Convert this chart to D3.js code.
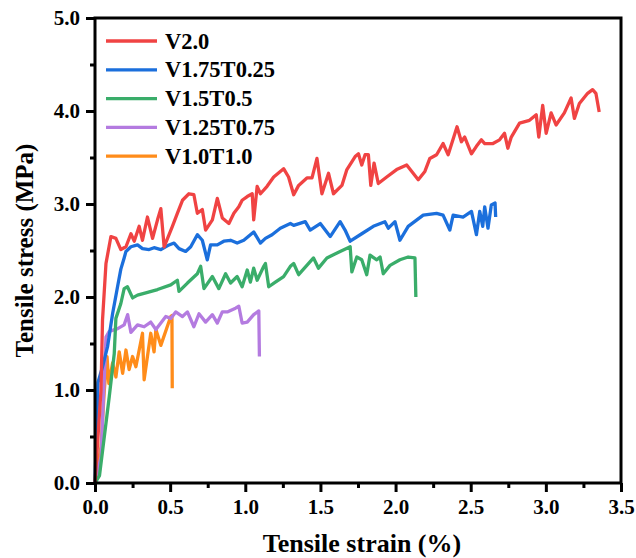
<!DOCTYPE html>
<html>
<head>
<meta charset="utf-8">
<script src="https://cdn.jsdelivr.net/npm/d3@7/dist/d3.min.js"></script>
<style>
  html, body { margin: 0; padding: 0; background: #fff; }
  svg { display: block; }
  text { font-family: "Liberation Serif", "Times New Roman", serif; font-weight: bold; fill: #000; }
</style>
</head>
<body>
<svg id="chart" width="636" height="558"></svg>
<script>
// Tensile stress–strain curves for five specimen compositions
const seriesNames = ["V2.0", "V1.75T0.25", "V1.5T0.5", "V1.25T0.75", "V1.0T1.0"];
const seriesColors = ["#f04343", "#1b6fdc", "#3aad6a", "#b47be0", "#ff8c1a"];

const strainV20 = [0,0.040,0.050,0.073,0.106,0.139,0.172,0.206,0.239,0.261,0.294,0.316,0.349,0.383,0.416,0.438,0.460,0.515,0.548,0.582,0.625,0.658,0.681,0.714,0.736,0.781,0.814,0.847,0.891,0.924,0.957,0.979,1.013,1.046,1.056,1.079,1.101,1.145,1.189,1.255,1.288,1.322,1.355,1.410,1.444,1.477,1.510,1.554,1.587,1.643,1.676,1.731,1.753,1.775,1.797,1.819,1.835,1.857,1.885,1.941,2.007,2.074,2.151,2.195,2.228,2.273,2.316,2.350,2.409,2.438,2.460,2.505,2.538,2.571,2.593,2.648,2.692,2.725,2.747,2.770,2.825,2.891,2.936,2.953,2.979,3.002,3.035,3.068,3.123,3.168,3.190,3.223,3.278,3.311,3.333,3.355];
const stressV20 = [0,1.00,1.75,2.36,2.65,2.63,2.51,2.54,2.68,2.60,2.76,2.61,2.86,2.63,2.83,2.95,2.54,2.76,2.90,3.04,3.11,3.10,2.90,2.94,2.72,2.83,3.06,2.85,2.79,2.90,2.97,3.04,3.08,3.11,2.83,3.19,3.11,3.19,3.29,3.38,3.29,3.10,3.20,3.28,3.28,3.49,3.11,3.33,3.11,3.20,3.37,3.51,3.54,3.42,3.53,3.53,3.20,3.44,3.22,3.29,3.37,3.42,3.26,3.35,3.49,3.53,3.65,3.53,3.83,3.67,3.72,3.54,3.62,3.69,3.65,3.65,3.69,3.76,3.60,3.72,3.87,3.90,3.96,3.72,4.06,3.76,3.98,3.85,3.98,4.14,3.92,4.08,4.19,4.23,4.19,3.99];

const strainV175 = [0,0.020,0.050,0.084,0.117,0.150,0.172,0.194,0.206,0.239,0.283,0.316,0.360,0.393,0.438,0.493,0.526,0.559,0.603,0.637,0.681,0.714,0.747,0.769,0.814,0.857,0.902,0.946,0.990,1.056,1.101,1.134,1.178,1.233,1.300,1.322,1.399,1.432,1.499,1.565,1.631,1.664,1.698,1.775,1.852,1.929,1.952,1.996,2.029,2.084,2.184,2.273,2.316,2.361,2.383,2.449,2.505,2.538,2.560,2.580,2.593,2.615,2.637,2.662,2.666];
const stressV175 = [0,1.08,1.25,1.47,1.82,2.11,2.30,2.42,2.49,2.54,2.56,2.52,2.51,2.53,2.51,2.56,2.58,2.52,2.49,2.54,2.67,2.61,2.40,2.56,2.56,2.60,2.61,2.58,2.61,2.70,2.58,2.63,2.67,2.74,2.79,2.77,2.81,2.72,2.79,2.65,2.81,2.72,2.60,2.68,2.76,2.81,2.74,2.81,2.61,2.76,2.88,2.90,2.88,2.72,2.88,2.86,2.92,2.67,2.92,2.76,2.97,2.74,2.99,3.01,2.86];

const strainV15 = [0,0.030,0.095,0.128,0.139,0.172,0.194,0.216,0.250,0.283,0.350,0.416,0.504,0.548,0.559,0.615,0.681,0.703,0.725,0.781,0.824,0.869,0.902,0.946,0.979,1.013,1.034,1.056,1.079,1.123,1.134,1.156,1.200,1.255,1.300,1.322,1.355,1.454,1.487,1.543,1.631,1.698,1.709,1.742,1.775,1.808,1.830,1.875,1.897,1.918,1.963,2.029,2.084,2.129,2.135];
const stressV15 = [0,0.08,0.93,1.39,1.77,1.93,2.09,2.11,1.99,2.02,2.05,2.08,2.13,2.18,2.06,2.15,2.25,2.33,2.09,2.22,2.09,2.25,2.15,2.22,2.11,2.29,2.16,2.31,2.18,2.33,2.36,2.11,2.16,2.22,2.33,2.36,2.24,2.42,2.31,2.42,2.49,2.54,2.27,2.43,2.40,2.24,2.45,2.40,2.43,2.25,2.34,2.40,2.43,2.42,2.00];

const strainV125 = [0,0.040,0.073,0.095,0.151,0.194,0.217,0.239,0.283,0.327,0.371,0.405,0.438,0.471,0.504,0.537,0.582,0.615,0.658,0.692,0.736,0.781,0.814,0.847,0.880,0.935,0.957,0.979,1.013,1.056,1.090,1.094];
const stressV125 = [0,0.28,1.57,1.63,1.66,1.70,1.81,1.62,1.70,1.68,1.73,1.65,1.72,1.79,1.77,1.84,1.79,1.84,1.68,1.82,1.73,1.81,1.72,1.84,1.84,1.88,1.90,1.72,1.73,1.81,1.85,1.36];

const strainV10 = [0,0.040,0.062,0.080,0.092,0.117,0.139,0.161,0.184,0.206,0.227,0.250,0.272,0.316,0.327,0.371,0.393,0.405,0.438,0.504,0.512,0.514];
const stressV10 = [0,0.39,1.00,1.36,1.07,1.29,1.14,1.41,1.18,1.43,1.22,1.36,1.25,1.61,1.11,1.61,1.41,1.65,1.48,1.79,1.80,1.02];

const xTickValues = [0, 0.5, 1.0, 1.5, 2.0, 2.5, 3.0, 3.5];
const yTickValues = [0, 1.0, 2.0, 3.0, 4.0, 5.0];
const xTitle = "Tensile strain (%)";
const yTitle = "Tensile stress (MPa)";

const strains = [strainV20, strainV175, strainV15, strainV125, strainV10];
const stresses = [stressV20, stressV175, stressV15, stressV125, stressV10];
const series = seriesNames.map((name, i) => ({
  name,
  color: seriesColors[i],
  points: strains[i].map((s, j) => [s, stresses[i][j]])
}));

const svg = d3.select("#chart");
const plotLeft = 95, plotRight = 621, plotTop = 18, plotBottom = 483;

const x = d3.scaleLinear().domain([0, 3.5]).range([plotLeft, plotRight]);
const y = d3.scaleLinear().domain([0, 5]).range([plotBottom, plotTop]);

// curves
const line = d3.line().x(d => x(d[0])).y(d => y(d[1]));
svg.append("g").selectAll("path")
  .data(series.slice().reverse())
  .join("path")
  .attr("d", d => line(d.points))
  .attr("fill", "none")
  .attr("stroke", d => d.color)
  .attr("stroke-width", 3.3)
  .attr("stroke-linejoin", "round")
  .attr("stroke-linecap", "butt");

// frame
svg.append("rect")
  .attr("x", plotLeft).attr("y", plotTop)
  .attr("width", plotRight - plotLeft).attr("height", plotBottom - plotTop)
  .attr("fill", "none").attr("stroke", "#000").attr("stroke-width", 3);

// minor ticks
const xMinor = d3.range(0.25, 3.5, 0.5);
const yMinor = d3.range(0.5, 5, 1);
svg.append("g").attr("transform", `translate(0,${plotBottom})`)
  .call(d3.axisBottom(x).tickValues(xMinor).tickSize(5).tickFormat("").tickSizeOuter(0))
  .call(g => g.select(".domain").remove())
  .call(g => g.selectAll("line").attr("stroke-width", 3));
svg.append("g").attr("transform", `translate(${plotLeft},0)`)
  .call(d3.axisLeft(y).tickValues(yMinor).tickSize(5).tickFormat("").tickSizeOuter(0))
  .call(g => g.select(".domain").remove())
  .call(g => g.selectAll("line").attr("stroke-width", 3));

// major ticks with labels
const xAxis = svg.append("g").attr("transform", `translate(0,${plotBottom})`)
  .call(d3.axisBottom(x).tickValues(xTickValues).tickSize(9).tickPadding(7).tickFormat(d3.format(".1f")).tickSizeOuter(0));
xAxis.select(".domain").remove();
xAxis.selectAll("line").attr("stroke-width", 3);
xAxis.selectAll("text").style("font-size", "21px").style("font-family", "Liberation Serif").style("font-weight", "bold");

const yAxis = svg.append("g").attr("transform", `translate(${plotLeft},0)`)
  .call(d3.axisLeft(y).tickValues(yTickValues).tickSize(9).tickPadding(6).tickFormat(d3.format(".1f")).tickSizeOuter(0));
yAxis.select(".domain").remove();
yAxis.selectAll("line").attr("stroke-width", 3);
yAxis.selectAll("text").style("font-size", "21px").style("font-family", "Liberation Serif").style("font-weight", "bold");

// axis titles
svg.append("text")
  .attr("x", 362).attr("y", 552)
  .attr("text-anchor", "middle")
  .style("font-size", "26px")
  .text(xTitle);
svg.append("text")
  .attr("transform", `translate(33,${(plotTop + plotBottom) / 2}) rotate(-90)`)
  .attr("text-anchor", "middle")
  .style("font-size", "25px")
  .text(yTitle);

// legend
const legend = svg.append("g");
series.forEach((s, i) => {
  const ly = 41 + i * 28.8;
  legend.append("line")
    .attr("x1", 106).attr("x2", 157)
    .attr("y1", ly).attr("y2", ly)
    .attr("stroke", s.color).attr("stroke-width", 3.3);
  legend.append("text")
    .attr("x", 165).attr("y", ly + 7.5)
    .style("font-size", "22.5px")
    .text(s.name);
});
</script>
</body>
</html>
